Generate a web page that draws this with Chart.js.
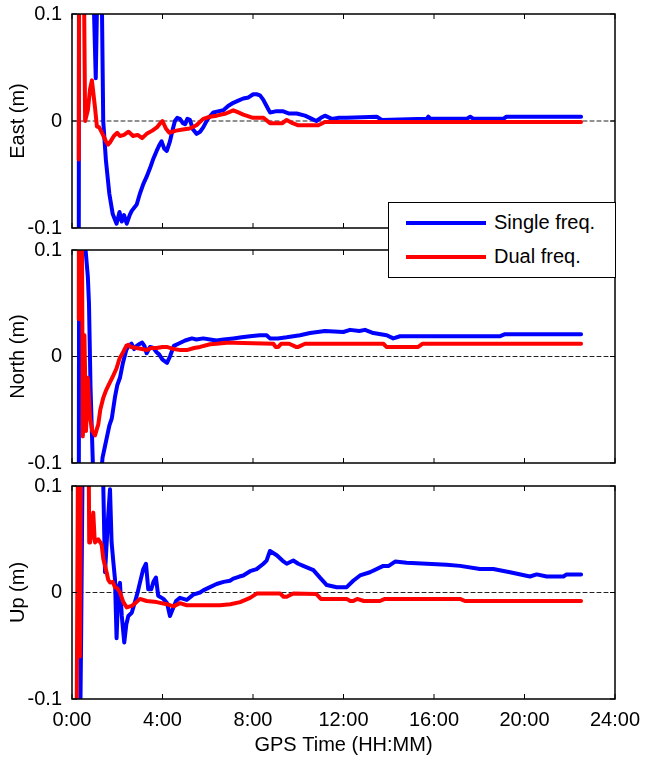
<!DOCTYPE html>
<html>
<head>
<meta charset="utf-8">
<script src="https://cdn.jsdelivr.net/npm/chart.js@4.4.1/dist/chart.umd.min.js"></script>
<style>
  html, body { margin: 0; padding: 0; background: #fff; }
  #wrap { position: relative; width: 646px; height: 761px; overflow: hidden; font-family: "Liberation Sans", Arial, sans-serif; }
  canvas { position: absolute; left: 0; }
  #legend {
    position: absolute; left: 388px; top: 202px; width: 228px; height: 76px;
    box-sizing: border-box; border: 1.5px solid #000; background: #fff; z-index: 5;
  }
  .item { position: absolute; left: 0; width: 100%; height: 34px; }
  .swatch { position: absolute; left: 17px; top: 15px; width: 80px; height: 4px; }
  .txt { position: absolute; left: 105px; top: 4px; font-size: 20px; line-height: 24px; color: #000; }
</style>
</head>
<body>
<div id="wrap">
  <canvas id="east" width="646" height="240" style="top:0px"></canvas>
  <canvas id="north" width="646" height="239" style="top:236px"></canvas>
  <canvas id="up" width="646" height="289" style="top:472px"></canvas>
  <div id="legend"></div>
</div>
<script>
// time in hours, offset in metres
const eastSingle = [[0.3,-0.15],[0.31,0.2],[0.85,0.2],[1.05,0.04],[1.18,0.2],[1.3,0.15],[1.38,0.0],[1.5,-0.037],[1.65,-0.068],[1.8,-0.087],[1.97,-0.096],[2.1,-0.085],[2.2,-0.094],[2.3,-0.088],[2.42,-0.096],[2.55,-0.088],[2.64,-0.084],[2.86,-0.078],[3.0,-0.068],[3.15,-0.059],[3.3,-0.052],[3.45,-0.044],[3.6,-0.035],[3.74,-0.028],[3.85,-0.023],[3.96,-0.019],[4.08,-0.026],[4.19,-0.028],[4.33,-0.019],[4.45,-0.008],[4.55,0.0],[4.65,0.003],[4.77,0.002],[4.9,-0.002],[5.0,-0.003],[5.1,0.002],[5.21,0.001],[5.35,-0.008],[5.51,-0.012],[5.66,-0.01],[5.8,-0.006],[6.0,0.002],[6.25,0.008],[6.45,0.009],[6.69,0.01],[6.9,0.014],[7.13,0.017],[7.35,0.019],[7.57,0.021],[7.8,0.022],[8.01,0.025],[8.16,0.025],[8.31,0.024],[8.45,0.02],[8.6,0.014],[8.75,0.008],[9.0,0.009],[9.34,0.009],[9.6,0.007],[9.93,0.007],[10.3,0.005],[10.6,0.002],[10.8,0.0],[11.0,0.003],[11.18,0.005],[11.48,0.002],[11.8,0.003],[12.14,0.003],[13.47,0.004],[13.69,0.001],[15.68,0.002],[15.75,0.004],[15.85,0.002],[17.44,0.002],[17.6,0.004],[17.75,0.002],[19.06,0.002],[19.2,0.004],[22.5,0.004]];
const eastDual = [[0.3,-0.036],[0.32,0.2],[0.5,0.2],[0.58,0.0],[0.7,0.01],[0.8,0.03],[0.88,0.038],[0.95,0.025],[1.02,0.012],[1.1,-0.005],[1.2,-0.006],[1.35,-0.012],[1.5,-0.019],[1.6,-0.022],[1.68,-0.02],[1.85,-0.014],[2.0,-0.011],[2.12,-0.014],[2.3,-0.013],[2.5,-0.01],[2.7,-0.014],[2.9,-0.013],[3.1,-0.016],[3.3,-0.012],[3.55,-0.009],[3.75,-0.006],[3.9,-0.002],[4.0,0.0],[4.15,-0.007],[4.3,-0.011],[4.6,-0.009],[4.9,-0.008],[5.2,-0.007],[5.5,-0.004],[5.8,0.002],[6.1,0.004],[6.4,0.005],[6.8,0.007],[7.13,0.01],[7.35,0.008],[7.57,0.006],[8.0,0.003],[8.46,0.003],[8.75,-0.002],[9.3,-0.002],[9.49,0.001],[9.75,-0.002],[10.0,-0.004],[10.89,-0.004],[11.18,-0.001],[22.5,-0.001]];

const northSingle = [[0.3,-0.15],[0.32,0.2],[0.55,0.2],[0.6,0.1],[0.7,0.075],[0.75,0.05],[0.82,-0.03],[0.95,-0.12],[1.25,-0.12],[1.35,-0.095],[1.45,-0.085],[1.55,-0.075],[1.65,-0.065],[1.76,-0.058],[1.9,-0.038],[2.0,-0.027],[2.12,-0.02],[2.25,-0.006],[2.4,0.006],[2.5,0.01],[2.63,0.012],[2.75,0.007],[2.86,0.01],[3.0,0.012],[3.1,0.013],[3.2,0.01],[3.3,0.003],[3.45,0.009],[3.6,0.008],[3.74,0.004],[3.85,0.002],[4.0,-0.003],[4.2,-0.006],[4.33,0.0],[4.5,0.01],[4.7,0.012],[5.0,0.015],[5.3,0.017],[5.5,0.016],[5.8,0.017],[6.1,0.016],[6.39,0.015],[6.7,0.016],[7.13,0.017],[7.5,0.018],[7.87,0.019],[8.3,0.02],[8.6,0.02],[8.75,0.017],[9.1,0.017],[9.49,0.018],[10.08,0.02],[10.52,0.022],[11.18,0.024],[11.99,0.023],[12.29,0.025],[12.7,0.024],[12.95,0.025],[13.32,0.022],[13.91,0.02],[14.2,0.017],[14.5,0.019],[18.9,0.019],[19.14,0.021],[22.5,0.021]];
const northDual = [[0.3,0.035],[0.31,0.2],[0.42,0.2],[0.48,-0.075],[0.55,0.02],[0.62,-0.07],[0.7,-0.02],[0.8,-0.058],[0.9,-0.07],[1.02,-0.074],[1.1,-0.068],[1.16,-0.064],[1.25,-0.05],[1.38,-0.039],[1.5,-0.032],[1.68,-0.024],[1.8,-0.019],[1.97,-0.011],[2.1,-0.002],[2.27,0.0045],[2.4,0.01],[2.49,0.011],[2.6,0.009],[2.86,0.008],[3.1,0.007],[3.3,0.006],[3.5,0.008],[3.74,0.008],[4.0,0.009],[4.19,0.009],[4.5,0.007],[4.8,0.006],[5.07,0.006],[5.4,0.008],[5.66,0.009],[6.1,0.0115],[6.39,0.012],[6.84,0.013],[7.13,0.013],[8.9,0.012],[9.0,0.009],[9.12,0.009],[9.25,0.012],[9.6,0.012],[9.9,0.009],[10.0,0.009],[10.3,0.012],[13.76,0.012],[13.9,0.009],[15.3,0.009],[15.5,0.012],[22.5,0.012]];

const upSingle = [[0.35,-0.15],[0.4,-0.05],[0.5,0.2],[1.3,0.2],[1.38,0.103],[1.46,0.019],[1.6,0.072],[1.68,0.097],[1.75,0.047],[1.83,0.028],[1.9,0.0125],[1.97,-0.043],[2.05,0.005],[2.12,0.009],[2.2,-0.022],[2.31,-0.047],[2.4,-0.03],[2.49,-0.022],[2.64,-0.019],[2.78,-0.009],[2.9,0.0],[3.0,0.009],[3.15,0.022],[3.27,0.027],[3.37,0.003],[3.5,0.003],[3.6,0.01],[3.71,0.014],[3.81,-0.003],[4.04,-0.006],[4.2,-0.01],[4.33,-0.022],[4.48,-0.014],[4.6,-0.008],[4.77,-0.005],[5.07,-0.007],[5.36,-0.002],[5.66,0.0],[5.8,0.002],[6.1,0.005],[6.39,0.008],[6.7,0.01],[6.98,0.011],[7.13,0.013],[7.4,0.015],[7.57,0.016],[7.87,0.02],[8.16,0.022],[8.46,0.027],[8.6,0.03],[8.75,0.039],[9.05,0.035],[9.3,0.03],[9.49,0.027],[9.78,0.03],[10.0,0.027],[10.22,0.025],[10.67,0.021],[10.96,0.014],[11.26,0.007],[11.7,0.005],[12.14,0.005],[12.43,0.011],[12.73,0.016],[13.17,0.019],[13.76,0.025],[14.0,0.025],[14.28,0.029],[14.79,0.028],[15.68,0.027],[16.56,0.026],[17.15,0.025],[18.03,0.022],[18.62,0.022],[19.36,0.019],[20.24,0.015],[20.54,0.017],[20.98,0.015],[21.72,0.015],[21.86,0.017],[22.5,0.017]];
const upDual = [[0.2,-0.15],[0.28,0.2],[0.35,-0.06],[0.42,0.2],[0.72,0.2],[0.76,0.047],[0.8,0.047],[0.87,0.06],[0.94,0.075],[1.0,0.05],[1.02,0.047],[1.16,0.05],[1.25,0.047],[1.31,0.045],[1.38,0.032],[1.53,0.019],[1.6,0.012],[1.68,0.0094],[1.8,0.01],[1.9,0.005],[2.0,0.004],[2.12,0.0],[2.27,-0.009],[2.42,-0.014],[2.64,-0.0125],[2.8,-0.01],[3.0,-0.006],[3.3,-0.008],[3.74,-0.009],[4.19,-0.011],[4.48,-0.013],[4.77,-0.01],[5.07,-0.012],[6.54,-0.012],[7.0,-0.011],[7.43,-0.009],[7.87,-0.005],[8.16,-0.001],[9.2,-0.001],[9.35,-0.004],[9.49,-0.004],[9.78,-0.001],[10.8,-0.0015],[11.0,-0.006],[12.14,-0.006],[12.3,-0.008],[12.43,-0.008],[12.6,-0.006],[12.9,-0.008],[13.61,-0.008],[13.83,-0.006],[17.15,-0.006],[17.37,-0.008],[22.5,-0.008]];

const seriesNames = ["Single freq.", "Dual freq."];
const seriesColors = ["#0000ff", "#ff0000"];
const hourTicks = [0, 4, 8, 12, 16, 20, 24];
const FONT = "'Liberation Sans', Arial, sans-serif";

const toXY = (arr) => arr.map(([x, y]) => ({ x, y }));

// MATLAB-style frame: full box with ticks pointing inward
const boxPlugin = {
  id: "box",
  afterDatasetsDraw(chart) {
    const { ctx, chartArea: a, scales } = chart;
    const tl = 5;
    ctx.save();
    ctx.strokeStyle = "#000";
    ctx.lineWidth = 1.5;
    ctx.strokeRect(a.left, a.top, a.right - a.left, a.bottom - a.top);
    ctx.beginPath();
    hourTicks.forEach((h) => {
      const px = scales.x.getPixelForValue(h);
      ctx.moveTo(px, a.top); ctx.lineTo(px, a.top + tl);
      ctx.moveTo(px, a.bottom); ctx.lineTo(px, a.bottom - tl);
    });
    [-0.1, 0, 0.1].forEach((v) => {
      const py = scales.y.getPixelForValue(v);
      ctx.moveTo(a.left, py); ctx.lineTo(a.left + tl, py);
      ctx.moveTo(a.right, py); ctx.lineTo(a.right - tl, py);
    });
    ctx.lineWidth = 1;
    ctx.stroke();
    ctx.restore();
  }
};

function makePanel(id, yTitle, single, dual, bottom) {
  return new Chart(document.getElementById(id), {
    type: "line",
    data: {
      datasets: [
        { label: seriesNames[1], data: toXY(dual), borderColor: seriesColors[1], borderWidth: 4 },
        { label: seriesNames[0], data: toXY(single), borderColor: seriesColors[0], borderWidth: 4 },
        { label: "zero", data: [{ x: 0, y: 0 }, { x: 24, y: 0 }], borderColor: "#222", borderWidth: 1, borderDash: [4, 3] }
      ]
    },
    options: {
      responsive: false,
      animation: false,
      events: [],
      layout: { padding: { top: 14, right: 31, left: 0, bottom: 0 } },
      elements: { point: { radius: 0 }, line: { tension: 0, borderJoinStyle: "round", borderCapStyle: "round" } },
      plugins: { legend: { display: false }, tooltip: { enabled: false } },
      scales: {
        x: {
          type: "linear", min: 0, max: 24,
          grid: { display: false, drawTicks: false }, border: { display: false },
          afterBuildTicks: (s) => { s.ticks = hourTicks.map((v) => ({ value: v })); },
          afterFit: (s) => {
            s.height = bottom ? 62 : 12;
            s.paddingLeft = 0; s.paddingRight = 0;
          },
          ticks: {
            display: bottom, autoSkip: false, maxRotation: 0, padding: 9,
            color: "#000", font: { family: FONT, size: 20 },
            callback: (v) => v + ":00"
          },
          title: {
            display: bottom, text: "GPS Time (HH:MM)", color: "#000",
            font: { family: FONT, size: 20 }, padding: { top: 0, bottom: 4 }
          }
        },
        y: {
          min: -0.1, max: 0.1,
          grid: { display: false, drawTicks: false }, border: { display: false },
          afterBuildTicks: (s) => { s.ticks = [-0.1, 0, 0.1].map((v) => ({ value: v })); },
          afterFit: (s) => {
            s.width = 72;
            s.paddingTop = 0; s.paddingBottom = 0;
          },
          ticks: {
            padding: 10, color: "#000", font: { family: FONT, size: 20 },
            callback: (v) => (Math.abs(v) < 1e-9 ? "0" : v.toFixed(1))
          },
          title: {
            display: true, text: yTitle, color: "#000",
            font: { family: FONT, size: 20 }, padding: { top: 6 }
          }
        }
      }
    },
    plugins: [boxPlugin]
  });
}

const eastChart = makePanel("east", "East (m)", eastSingle, eastDual, false);
makePanel("north", "North (m)", northSingle, northDual, false);
makePanel("up", "Up (m)", upSingle, upDual, true);

// legend box built from the first panel's series
const legendEl = document.getElementById("legend");
[1, 0].forEach((di, row) => {
  const ds = eastChart.data.datasets[di];
  const item = document.createElement("div");
  item.className = "item";
  item.style.top = (row * 34 + 3) + "px";
  item.innerHTML = '<div class="swatch" style="background:' + ds.borderColor + '"></div><div class="txt">' + ds.label + "</div>";
  legendEl.appendChild(item);
});
</script>
</body>
</html>
